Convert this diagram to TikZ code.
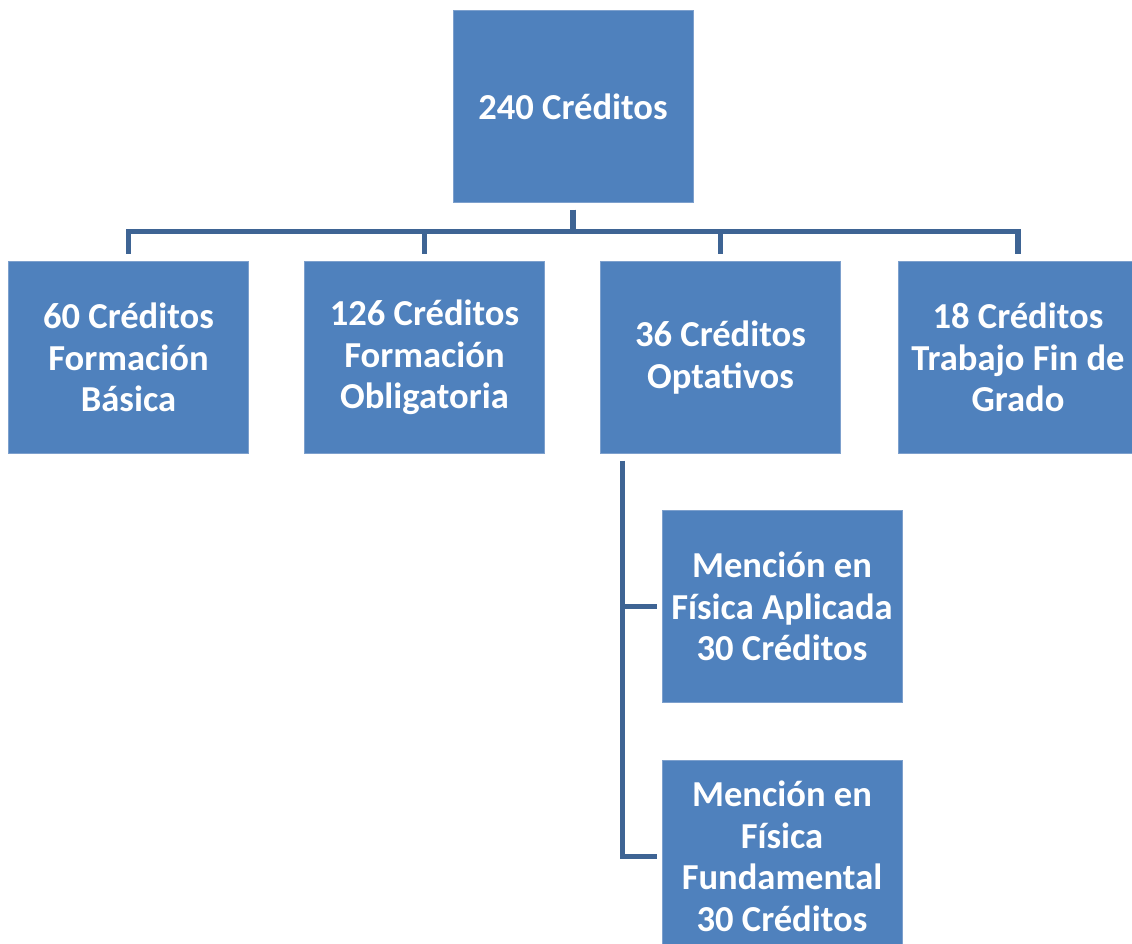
\documentclass[tikz,border=0pt]{standalone}
\usepackage{fontspec}
\setmainfont{Carlito}
\usepackage{tikz}
\usetikzlibrary{positioning}

\definecolor{boxblue}{RGB}{79,129,189}
\definecolor{boxedge}{RGB}{125,160,205}
\definecolor{linkblue}{RGB}{62,100,148}

\tikzset{
  credbox/.style={rectangle, fill=boxblue, draw=boxedge, line width=0.6pt,
    minimum width=6cm, minimum height=4.8cm, inner sep=0pt, align=center,
    text=white, font=\fontsize{26}{29.5}\selectfont\bfseries},
  link/.style={draw=linkblue, line width=3.6pt}
}

\begin{document}
\begin{tikzpicture}[x=0.025cm, y=-0.025cm]
\useasboundingbox (0,0) rectangle (1132,944);
% Top level
\node[credbox] (total) at (573,106.5) {240 Créditos};
% Second level
\node[credbox] (basica) at (128.5,357.5) {60 Créditos\\Formación\\Básica};
\node[credbox] (obligatoria) at (424.5,357.5) {126 Créditos\\Formación\\Obligatoria};
\node[credbox] (optativos) at (720.5,357.5) {36 Créditos\\Optativos};
\node[credbox] (tfg) at (1018,357.5) {18 Créditos\\Trabajo Fin de\\Grado};
% Menciones
\node[credbox] (aplicada) at (782,606.5) {Mención en\\Física Aplicada\\30 Créditos};
\node[credbox] (fundamental) at (782,856.5) {Mención en\\Física\\Fundamental\\30 Créditos};
% Connectors
\foreach \child in {basica,obligatoria,optativos,tfg}
  \draw[link, shorten <=5pt, shorten >=5pt] (total.south) -- ++(0,29) -| (\child.north);
\foreach \child in {aplicada,fundamental}
  \draw[link, shorten <=5pt, shorten >=3.5pt] ([xshift=0.55cm]optativos.south west) |- (\child.west);
\end{tikzpicture}
\end{document}
